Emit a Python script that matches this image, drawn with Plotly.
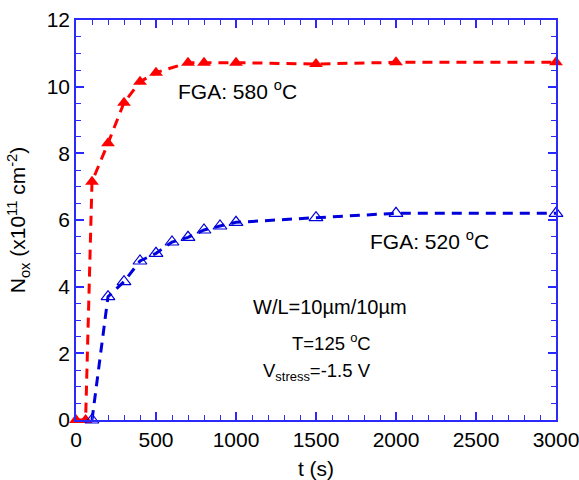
import plotly.graph_objects as go

# Data
t_580 = [0, 60, 100, 200, 300, 400, 500, 700, 800, 1000, 1500, 2000, 3000]
n_580 = [0, 0, 7.15, 8.3, 9.52, 10.15, 10.42, 10.72, 10.72, 10.72, 10.68, 10.73, 10.73]

t_520 = [100, 200, 300, 400, 500, 600, 700, 800, 900, 1000, 1500, 2000, 3000]
n_520 = [0, 3.7, 4.15, 4.77, 5.0, 5.34, 5.48, 5.7, 5.82, 5.93, 6.07, 6.2, 6.2]

x_ticks = [0, 500, 1000, 1500, 2000, 2500, 3000]
y_ticks = [0, 2, 4, 6, 8, 10, 12]

FONT = "Liberation Sans, Arial, Helvetica, sans-serif"
AXIS_BLUE = "#2a2aff"

fig = go.Figure()
fig.add_trace(go.Scatter(
    x=t_580, y=n_580, mode="lines+markers",
    line=dict(color="#ff0000", width=3, dash="10px,7px"),
    marker=dict(symbol="triangle-up", size=12, color="#ff0000"),
    showlegend=False, cliponaxis=False))
fig.add_trace(go.Scatter(
    x=t_520, y=n_520, mode="lines+markers",
    line=dict(color="#0000dd", width=3, dash="10px,7px"),
    marker=dict(symbol="triangle-up-open", size=12, color="#0000dd",
                line=dict(width=1.2, color="#0000dd")),
    showlegend=False, cliponaxis=False))

big = dict(family=FONT, size=21, color="black")
mid = dict(family=FONT, size=20, color="black")
small = dict(family=FONT, size=18.5, color="black")
fig.add_annotation(x=1011, y=9.9, text="FGA: 580 <sup>o</sup>C", showarrow=False, font=big)
fig.add_annotation(x=2211, y=5.4, text="FGA: 520 <sup>o</sup>C", showarrow=False, font=big)
fig.add_annotation(x=1585, y=3.4, text="W/L=10\u00b5m/10\u00b5m", showarrow=False, font=mid)
fig.add_annotation(x=1595, y=2.35, text="T=125 <sup>o</sup>C", showarrow=False, font=small)
fig.add_annotation(x=1504, y=1.45, text="V<sub>stress</sub>=-1.5 V", showarrow=False, font=small)

axis_common = dict(
    showline=True, linecolor=AXIS_BLUE, linewidth=1.5, mirror="allticks",
    ticks="inside", ticklen=8, tickwidth=1.5, tickcolor=AXIS_BLUE,
    showgrid=False, zeroline=False, automargin=False,
    ticklabeloverflow="allow",
    tickfont=dict(family=FONT, size=21, color="black"),
)

fig.update_xaxes(
    range=[0, 3000], tickvals=x_ticks, ticktext=[str(v) for v in x_ticks],
    minor=dict(dtick=100, ticks="inside", ticklen=5, tickwidth=1.2, tickcolor=AXIS_BLUE, showgrid=False),
    title=dict(text="t (s)", font=dict(family=FONT, size=21, color="black")),
    **axis_common)
fig.update_yaxes(
    range=[0, 12], tickvals=y_ticks, ticktext=[str(v) for v in y_ticks],
    minor=dict(dtick=0.5, ticks="inside", ticklen=5, tickwidth=1.2, tickcolor=AXIS_BLUE, showgrid=False),
    title=dict(text="N<sub>ox</sub> (x10<sup>11</sup> cm<sup>-2</sup>)",
               font=dict(family=FONT, size=21, color="black")),
    **axis_common)

fig.update_layout(
    width=579, height=480,
    margin=dict(l=76, r=23, t=20, b=60),
    plot_bgcolor="white", paper_bgcolor="white",
    font=dict(family=FONT, size=21, color="black"),
)

fig.write_html("out.html")
